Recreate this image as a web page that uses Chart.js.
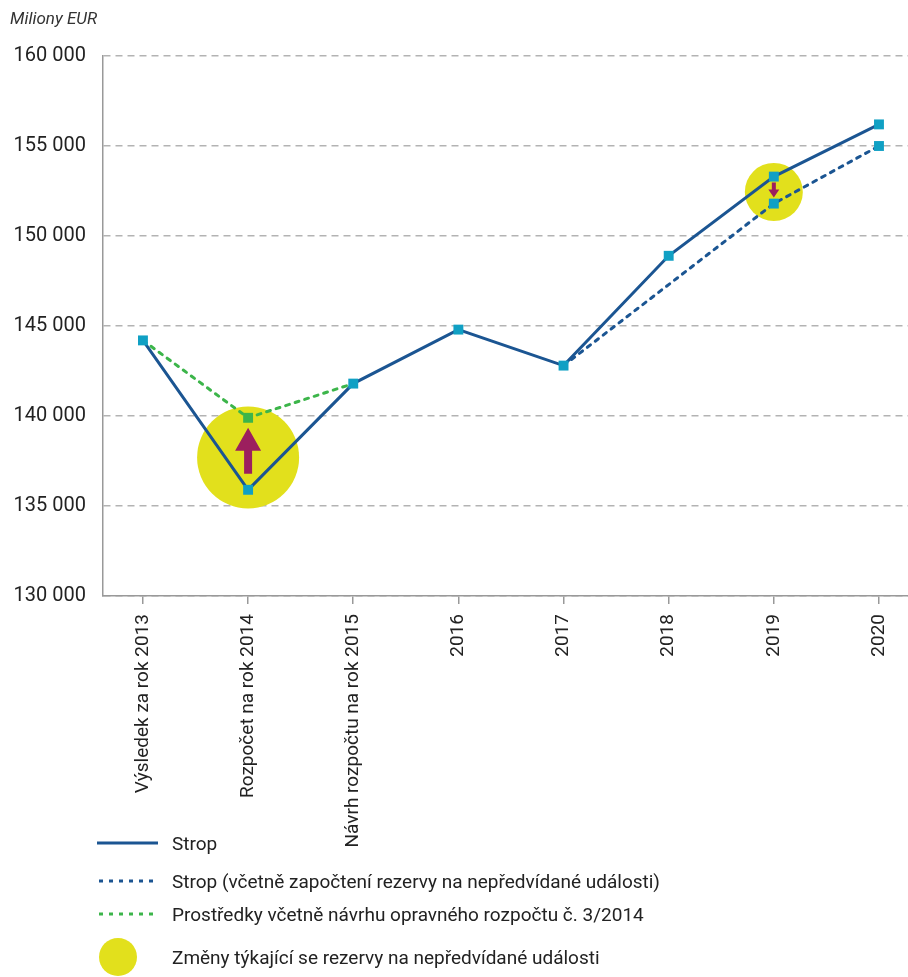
<!DOCTYPE html>
<html>
<head>
<meta charset="utf-8">
<script src="https://cdn.jsdelivr.net/npm/chart.js@4"></script>
<style>
  body { margin: 0; background: #fff; }
  #wrap { position: relative; width: 908px; height: 977px; }
  #unit { position: absolute; left: 10px; top: 8px; font: italic 17px Roboto, sans-serif; color: #333; }
  .leg { position: absolute; left: 96px; display: flex; align-items: center; font: 19px Roboto, sans-serif; color: #222; }
  .leg svg { margin-right: 12px; }
</style>
</head>
<body>
<div id="wrap">
  <canvas id="chart" width="908" height="977"></canvas>
  <div id="unit">Miliony EUR</div>
  <div class="leg" style="top:831px"><svg width="64" height="24"><line x1="1" y1="12" x2="62" y2="12" stroke="#1b5592" stroke-width="3"/></svg>Strop</div>
  <div class="leg" style="top:869px"><svg width="64" height="24"><line x1="3" y1="12" x2="62" y2="12" stroke="#1b5592" stroke-width="3" stroke-dasharray="4 6"/></svg>Strop (včetně započtení rezervy na nepředvídané události)</div>
  <div class="leg" style="top:902px"><svg width="64" height="24"><line x1="3" y1="12" x2="62" y2="12" stroke="#3cb54a" stroke-width="3" stroke-dasharray="4 6"/></svg>Prostředky včetně návrhu opravného rozpočtu č. 3/2014</div>
  <div class="leg" style="top:937px"><svg width="64" height="40"><circle cx="22" cy="20" r="19" fill="#e2e01c"/></svg>Změny týkající se rezervy na nepředvídané události</div>
</div>
<script>
const categories = [
  "Výsledek za rok 2013", "Rozpočet na rok 2014", "Návrh rozpočtu na rok 2015",
  "2016", "2017", "2018", "2019", "2020"
];
const strop = [144200, 135900, 141800, 144800, 142800, 148900, 153300, 156200];
const stropRezerva = [null, null, null, null, 142800, 147300, 151800, 155000];
const prostredky = [144200, 139900, 141800, null, null, null, null, null];
// highlighted changes: category index and value of the circle centre
const zmenyIdx = [1, 6];
const zmenyVal = [137700, 152450];
// arrows: category index, from value, to value
const arrowIdx = [1, 6];
const arrowFrom = [135900, 153300];
const arrowTo = [139900, 151800];
const yTicks = [130000, 135000, 140000, 145000, 150000, 155000, 160000];

const toXY = (arr) => arr.map((v, i) => ({ x: i, y: v }));

const arrowPlugin = {
  id: 'arrows',
  afterDatasetDraw(chart, args) {
    if (args.index !== 3) return;
    const { ctx, scales: { x, y } } = chart;
    const styles = [
      { gapFrom: 16, gapTo: 10, shaft: 8, headW: 26, headL: 23 },
      { gapFrom: 6, gapTo: 6, shaft: 4, headW: 11, headL: 8 },
    ];
    ctx.save();
    ctx.fillStyle = '#9c1f5e';
    arrowIdx.forEach((idx, k) => {
      const s = styles[k];
      const px = x.getPixelForValue(idx);
      const y0 = y.getPixelForValue(arrowFrom[k]);
      const y1 = y.getPixelForValue(arrowTo[k]);
      const dir = y1 < y0 ? -1 : 1;
      const start = y0 + dir * s.gapFrom;
      const tip = y1 - dir * s.gapTo;
      const headBase = tip - dir * s.headL;
      ctx.beginPath();
      ctx.moveTo(px - s.shaft / 2, start);
      ctx.lineTo(px - s.shaft / 2, headBase);
      ctx.lineTo(px - s.headW / 2, headBase);
      ctx.lineTo(px, tip);
      ctx.lineTo(px + s.headW / 2, headBase);
      ctx.lineTo(px + s.shaft / 2, headBase);
      ctx.lineTo(px + s.shaft / 2, start);
      ctx.closePath();
      ctx.fill();
    });
    ctx.restore();
  }
};

const markerColor = '#10a0c4';

new Chart(document.getElementById('chart'), {
  type: 'line',
  data: {
    datasets: [
      {
        data: toXY(strop),
        borderColor: '#1b5592',
        borderWidth: 3,
        pointStyle: 'rect',
        pointRadius: 7,
        pointBackgroundColor: markerColor,
        pointBorderWidth: 0,
        tension: 0,
      },
      {
        data: toXY(stropRezerva),
        borderColor: '#1b5592',
        borderWidth: 3,
        borderDash: [4, 6],
        borderCapStyle: 'round',
        pointStyle: 'rect',
        pointRadius: [0, 0, 0, 0, 0, 0, 7, 7],
        pointBackgroundColor: markerColor,
        pointBorderWidth: 0,
      },
      {
        data: toXY(prostredky),
        borderColor: '#3cb54a',
        borderWidth: 3,
        borderDash: [4, 6],
        borderCapStyle: 'round',
        pointStyle: 'rect',
        pointRadius: [0, 7, 0, 0, 0, 0, 0, 0],
        pointBackgroundColor: '#3cb54a',
        pointBorderWidth: 0,
      },
      {
        type: 'scatter',
        data: zmenyIdx.map((i, k) => ({ x: i, y: zmenyVal[k] })),
        pointRadius: [51, 29],
        pointBackgroundColor: '#e2e01c',
        pointBorderWidth: 0,
        showLine: false,
      },
    ],
  },
  options: {
    responsive: false,
    animation: false,
    layout: { autoPadding: false, padding: { top: 56, right: 0, left: 0, bottom: 0 } },
    plugins: { legend: { display: false }, tooltip: { enabled: false } },
    scales: {
      x: {
        type: 'linear',
        min: -0.38,
        max: 7.276,
        afterBuildTicks: (s) => { s.ticks = categories.map((_, i) => ({ value: i })); },
        afterFit: (s) => { s.height = 381; s.paddingLeft = 0; s.paddingRight = 0; },
        grid: { drawOnChartArea: false, drawTicks: true, tickLength: 8, color: '#999', lineWidth: 1.5 },
        border: { color: '#999', width: 1.5 },
        ticks: {
          callback: (v) => categories[v],
          minRotation: 90,
          maxRotation: 90,
          padding: 10,
          autoSkip: false,
          color: '#222',
          font: { family: 'Roboto', size: 19 },
        },
      },
      y: {
        min: 130000,
        max: 160000,
        afterBuildTicks: (s) => { s.ticks = yTicks.map((v) => ({ value: v })); },
        afterFit: (s) => { s.width = 103; s.paddingTop = 0; s.paddingBottom = 0; },
        grid: { drawTicks: false, color: '#b3b3b3', lineWidth: 1.5 },
        border: { color: '#999', width: 1.5, dash: [7, 5] },
        ticks: {
          padding: 17,
          color: '#222',
          font: { family: 'Roboto', size: 20 },
          callback: (v) => v.toLocaleString('en-US').replace(',', ' '),
        },
      },
    },
  },
  plugins: [arrowPlugin],
});
</script>
</body>
</html>
